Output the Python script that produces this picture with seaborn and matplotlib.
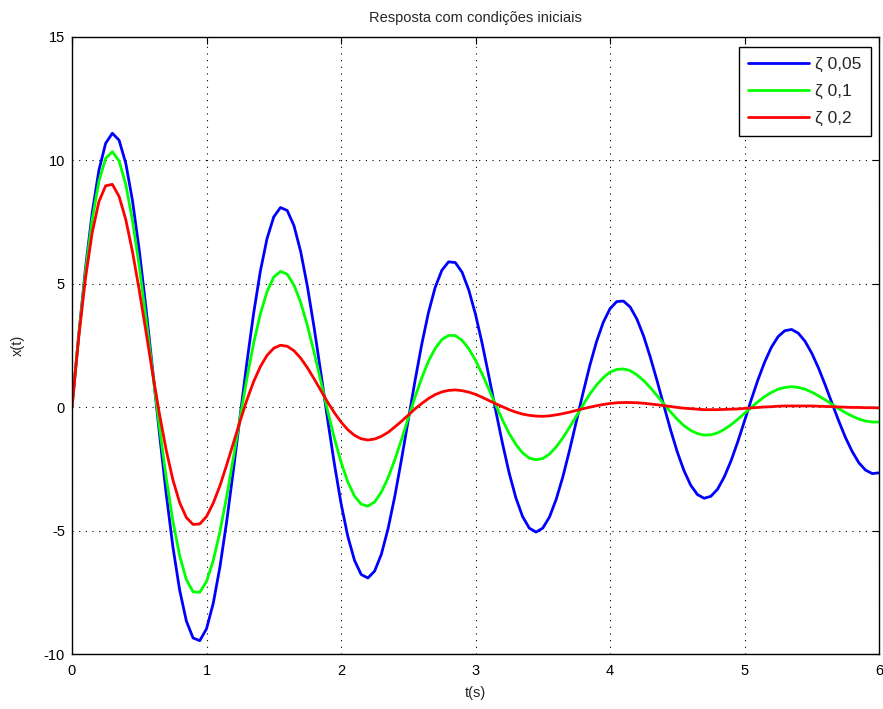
import numpy as np
import pandas as pd
import matplotlib
matplotlib.use("Agg")
import matplotlib.pyplot as plt
import seaborn as sns

# sample times (s), step 0.05
time = np.round(np.arange(121) * 0.05, 2)

labels = ["ζ 0,05", "ζ 0,1", "ζ 0,2"]
colors = ["#0000ff", "#00ff00", "#ff0000"]

# x(t), one value per sample time
x_005 = [
    0, 2.93, 5.61, 7.87, 9.60, 10.69, 11.10, 10.82, 9.88, 8.36,
    6.36, 4.02, 1.49, -1.06, -3.49, -5.65, -7.40, -8.66, -9.35, -9.46,
    -8.98, -7.95, -6.47, -4.63, -2.55, -0.36, 1.80, 3.79, 5.50, 6.83,
    7.71, 8.09, 7.97, 7.36, 6.31, 4.90, 3.23, 1.40, -0.48, -2.27,
    -3.89, -5.22, -6.20, -6.78, -6.92, -6.64, -5.96, -4.92, -3.61, -2.11,
    -0.52, 1.06, 2.54, 3.83, 4.85, 5.55, 5.89, 5.86, 5.47, 4.75,
    3.76, 2.57, 1.24, -0.13, -1.45, -2.66, -3.67, -4.43, -4.90, -5.06,
    -4.90, -4.45, -3.73, -2.81, -1.73, -0.57, 0.59, 1.69, 2.66, 3.44,
    3.99, 4.28, 4.30, 4.06, 3.57, 2.88, 2.02, 1.07, 0.07, -0.91,
    -1.81, -2.57, -3.16, -3.54, -3.69, -3.61, -3.32, -2.82, -2.17, -1.40,
    -0.56, 0.30, 1.11, 1.83, 2.43, 2.86, 3.10, 3.15, 3.00, 2.67,
    2.19, 1.59, 0.90, 0.17, -0.55, -1.22, -1.79, -2.25, -2.55, -2.69,
    -2.66,
]
x_01 = [
    0, 2.90, 5.47, 7.60, 9.15, 10.08, 10.35, 9.98, 9.02, 7.56,
    5.71, 3.61, 1.39, -0.80, -2.84, -4.61, -6.01, -6.98, -7.48, -7.50,
    -7.06, -6.22, -5.04, -3.62, -2.04, -0.42, 1.15, 2.58, 3.77, 4.68,
    5.27, 5.50, 5.39, 4.95, 4.25, 3.31, 2.22, 1.05, -0.13, -1.24,
    -2.22, -3.02, -3.60, -3.93, -4.01, -3.84, -3.44, -2.86, -2.13, -1.31,
    -0.44, 0.40, 1.18, 1.86, 2.38, 2.74, 2.91, 2.90, 2.71, 2.37,
    1.90, 1.34, 0.72, 0.09, -0.51, -1.06, -1.51, -1.85, -2.06, -2.13,
    -2.08, -1.90, -1.61, -1.24, -0.81, -0.36, 0.10, 0.53, 0.90, 1.20,
    1.42, 1.53, 1.55, 1.48, 1.31, 1.08, 0.79, 0.47, 0.13, -0.19,
    -0.49, -0.75, -0.94, -1.07, -1.13, -1.12, -1.04, -0.90, -0.71, -0.49,
    -0.25, -0.01, 0.22, 0.43, 0.60, 0.73, 0.80, 0.83, 0.80, 0.73,
    0.61, 0.46, 0.30, 0.12, -0.06, -0.22, -0.36, -0.48, -0.56, -0.60,
    -0.60,
]
x_02 = [
    0, 2.83, 5.22, 7.07, 8.33, 8.97, 9.03, 8.54, 7.60, 6.29,
    4.74, 3.06, 1.35, -0.27, -1.73, -2.94, -3.86, -4.47, -4.75, -4.73,
    -4.43, -3.89, -3.18, -2.34, -1.45, -0.56, 0.29, 1.03, 1.64, 2.10,
    2.39, 2.51, 2.47, 2.29, 1.99, 1.60, 1.15, 0.68, 0.21, -0.22,
    -0.60, -0.91, -1.14, -1.28, -1.33, -1.29, -1.18, -1.02, -0.80, -0.57,
    -0.32, -0.07, 0.15, 0.35, 0.51, 0.62, 0.68, 0.70, 0.67, 0.61,
    0.52, 0.40, 0.27, 0.14, 0.02, -0.10, -0.20, -0.28, -0.33, -0.36,
    -0.37, -0.35, -0.31, -0.26, -0.20, -0.13, -0.06, 0.00, 0.06, 0.11,
    0.15, 0.18, 0.19, 0.19, 0.18, 0.16, 0.13, 0.10, 0.06, 0.03,
    -0.01, -0.04, -0.06, -0.08, -0.10, -0.10, -0.10, -0.09, -0.08, -0.07,
    -0.05, -0.03, -0.01, 0.01, 0.02, 0.04, 0.05, 0.05, 0.05, 0.05,
    0.05, 0.04, 0.03, 0.02, 0.01, 0.00, -0.01, -0.01, -0.02, -0.02,
    -0.03,
]

xticks = [0, 1, 2, 3, 4, 5, 6]
yticks = [-10, -5, 0, 5, 10, 15]

sns.set_style("white")
plt.rcParams["font.family"] = ["Liberation Sans", "DejaVu Sans"]
plt.rcParams["axes.unicode_minus"] = False

# long table for seaborn
df = pd.concat([
    pd.DataFrame({"t": time, "x": vals, "serie": lab})
    for vals, lab in zip([x_005, x_01, x_02], labels)
], ignore_index=True)

fig = plt.figure(figsize=(8.83, 7.09), dpi=100)
ax = fig.add_axes([72 / 883, 1 - 654 / 709, (879 - 72) / 883, (654 - 37) / 709])

sns.lineplot(data=df, x="t", y="x", hue="serie", hue_order=labels,
             palette=colors, linewidth=2, sort=False, errorbar=None, ax=ax)

ax.set_xlim(0, 6)
ax.set_ylim(-10, 15)
ax.set_xticks(xticks)
ax.set_yticks(yticks)
ax.grid(True, color="black", linestyle=(0, (1, 5)), linewidth=0.8)
ax.tick_params(direction="in", top=True, right=True, length=5, width=0.8,
               labelsize=10.5, colors="black")
ax.tick_params(axis="x", pad=7)
ax.tick_params(axis="y", pad=5)
for sp in ax.spines.values():
    sp.set_color("black")
    sp.set_linewidth(1)

ax.set_title("Resposta com condições iniciais", fontsize=10.5, pad=11)
ax.set_xlabel("t(s)", fontsize=10.5, labelpad=6)
ax.set_ylabel("x(t)", fontsize=10.5, labelpad=14)

leg = ax.legend(loc="upper right", bbox_to_anchor=((871 - 72) / 807, 1 - 10 / 617),
                borderaxespad=0, fontsize=12.5, fancybox=False, framealpha=1,
                edgecolor="black", handlelength=3.5, handletextpad=0.35,
                labelspacing=0.7, borderpad=0.55)
leg.get_frame().set_linewidth(1)

fig.savefig("out.png", dpi=100)
